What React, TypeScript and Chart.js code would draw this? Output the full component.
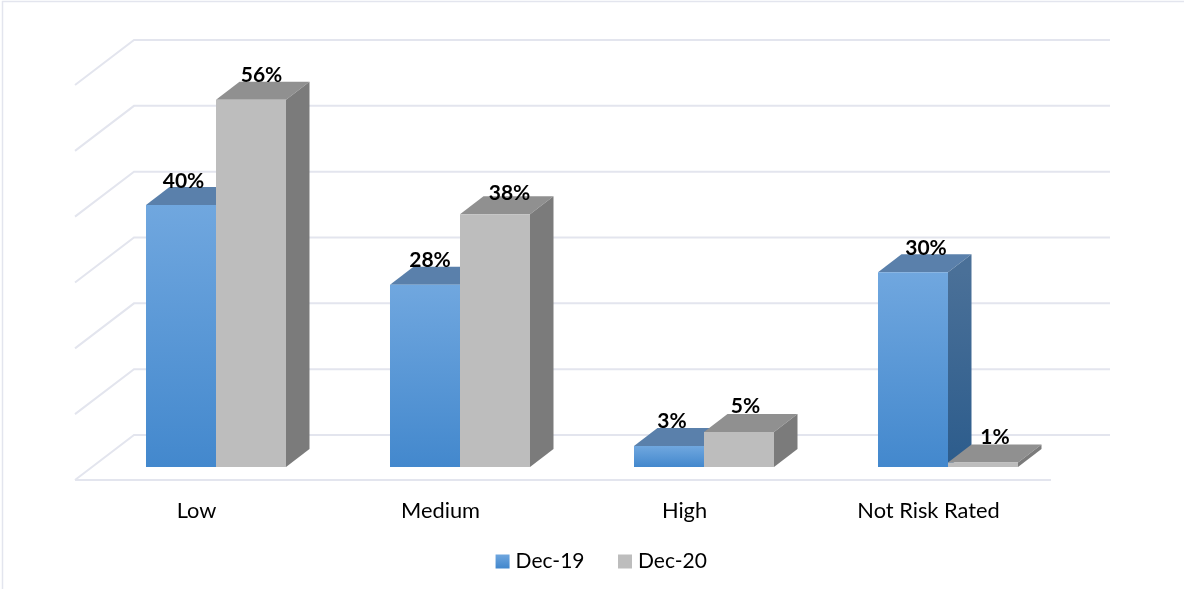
import React, { useEffect, useRef } from "react";
import { Chart, registerables } from "chart.js";

Chart.register(...registerables);

const categories = ["Low", "Medium", "High", "Not Risk Rated"];
const dec19 = [39.8, 27.7, 3.2, 29.6];
const dec20 = [55.8, 38.4, 5.3, 0.7];
const seriesNames = ["Dec-19", "Dec-20"];
const gridValues = [0, 10, 20, 30, 40, 50, 60];

const GRID = "#e3e5ee";
const FONT = "Lato";
const BACK = { x: 40, y: -32 };
const FRONT = { x: -19, y: 13 };
const DEPTH = { x: 23.5, y: -18 };
const LABEL_SHIFT = [
  [[2.5, -24], [5, -24], [3, -25], [13, -24]],
  [[10.5, -24], [14.5, -21], [6.5, -26], [12, -25]],
];

const palette = [
  { frontTop: "#70a7df", frontBottom: "#4388cd", top: "#5a80ab", sideTop: "#4a7098", sideBottom: "#2c5c8c" },
  { frontTop: "#bdbdbd", frontBottom: "#bdbdbd", top: "#909090", sideTop: "#7b7b7b", sideBottom: "#7b7b7b" },
];

function frontFill(ctx: any) {
  const p = palette[ctx.datasetIndex];
  const chart = ctx.chart;
  const yScale = chart.scales?.y;
  if (!yScale || !chart.chartArea || ctx.raw === undefined) return p.frontTop;
  const g = chart.ctx.createLinearGradient(0, yScale.getPixelForValue(ctx.raw), 0, yScale.getPixelForValue(0));
  g.addColorStop(0, p.frontTop);
  g.addColorStop(1, p.frontBottom);
  return g;
}

const scenePlugin = {
  id: "scene3d",
  afterLayout(chart: any) {
    chart.legend.left += 21.5;
    chart.legend.right += 21.5;
    chart.scales.x.bottom += 40;
  },
  beforeDraw(chart: any) {
    const c = chart.ctx;
    c.save();
    c.strokeStyle = GRID;
    c.lineWidth = 1.5;
    c.beginPath();
    c.moveTo(chart.width, 1.5);
    c.lineTo(2.5, 1.5);
    c.lineTo(2.5, chart.height);
    c.stroke();
    c.restore();
  },
  beforeDatasetsDraw(chart: any) {
    const c = chart.ctx;
    const { y: ys } = chart.scales;
    const area = chart.chartArea;
    c.save();
    c.strokeStyle = GRID;
    c.lineWidth = 2;
    gridValues.forEach((v) => {
      const y = ys.getPixelForValue(v);
      c.beginPath();
      c.moveTo(area.left + FRONT.x, y + FRONT.y);
      c.lineTo(area.left + BACK.x, y + BACK.y);
      c.lineTo(area.right + BACK.x, y + BACK.y);
      if (v === 0) {
        c.moveTo(area.left + FRONT.x, y + FRONT.y);
        c.lineTo(area.right + FRONT.x, y + FRONT.y);
      }
      c.stroke();
    });
    chart.data.datasets.forEach((_: any, di: number) => {
      const p = palette[di];
      chart.getDatasetMeta(di).data.forEach((bar: any) => {
        const l = bar.x - bar.width / 2;
        const r = bar.x + bar.width / 2;
        const t = bar.y;
        const b = bar.base;
        c.fillStyle = p.top;
        c.beginPath();
        c.moveTo(l, t);
        c.lineTo(l + DEPTH.x, t + DEPTH.y);
        c.lineTo(r + DEPTH.x, t + DEPTH.y);
        c.lineTo(r, t);
        c.closePath();
        c.fill();
        const g = c.createLinearGradient(0, t, 0, b);
        g.addColorStop(0, p.sideTop);
        g.addColorStop(1, p.sideBottom);
        c.fillStyle = g;
        c.beginPath();
        c.moveTo(r, t);
        c.lineTo(r + DEPTH.x, t + DEPTH.y);
        c.lineTo(r + DEPTH.x, b + DEPTH.y);
        c.lineTo(r, b);
        c.closePath();
        c.fill();
      });
    });
    c.restore();
  },
  afterDatasetsDraw(chart: any) {
    const c = chart.ctx;
    c.save();
    c.fillStyle = "#000";
    c.font = `bold 21px ${FONT}`;
    c.textAlign = "center";
    c.textBaseline = "middle";
    chart.data.datasets.forEach((ds: any, di: number) => {
      chart.getDatasetMeta(di).data.forEach((bar: any, i: number) => {
        const [dx, dy] = LABEL_SHIFT[di][i];
        c.fillText(`${Math.round(ds.data[i])}%`, bar.x + dx, bar.y + dy);
      });
    });
    c.restore();
  },
};

export default function App() {
  const ref = useRef<HTMLCanvasElement>(null);
  useEffect(() => {
    const canvas = ref.current!;
    const legendFill = (di: number) => {
      const g = canvas.getContext("2d")!.createLinearGradient(0, 554, 0, 568);
      g.addColorStop(0, palette[di].frontTop);
      g.addColorStop(1, palette[di].frontBottom);
      return g;
    };
    const chart = new Chart(canvas, {
      type: "bar",
      data: {
        labels: categories,
        datasets: [
          { label: seriesNames[0], data: dec19, backgroundColor: frontFill, categoryPercentage: 0.5738, barPercentage: 1, borderWidth: 0 },
          { label: seriesNames[1], data: dec20, backgroundColor: frontFill, categoryPercentage: 0.5738, barPercentage: 1, borderWidth: 0 },
        ],
      },
      options: {
        responsive: false,
        animation: false,
        devicePixelRatio: 1,
        layout: { padding: { left: 94, right: 114, top: 72, bottom: 7 } },
        scales: {
          x: {
            grid: { display: false },
            border: { display: false },
            afterFit(scale: any) {
              scale.height = 46;
            },
            ticks: {
              color: "#000",
              labelOffset: -19.5,
              padding: 23,
              maxRotation: 0,
              font: { family: FONT, size: 21.8 },
            },
          },
          y: { display: false, min: 0, max: 60 },
        },
        plugins: {
          tooltip: { enabled: false },
          legend: {
            position: "bottom",
            labels: {
              color: "#000",
              boxWidth: 5,
              boxHeight: 5,
              padding: 38,
              font: { family: FONT, size: 21 },
              generateLabels: () =>
                seriesNames.map((text, i) => ({
                  text,
                  datasetIndex: i,
                  fontColor: "#000",
                  fillStyle: legendFill(i),
                  strokeStyle: legendFill(i),
                  lineWidth: 9,
                  hidden: false,
                })),
            },
          },
        },
      },
      plugins: [scenePlugin],
    } as any);
    return () => chart.destroy();
  }, []);
  return (
    <canvas
      ref={ref}
      width={1184}
      height={589}
      style={{ position: "fixed", left: 0, top: 0, width: 1184, height: 589, background: "#fff" }}
    />
  );
}
